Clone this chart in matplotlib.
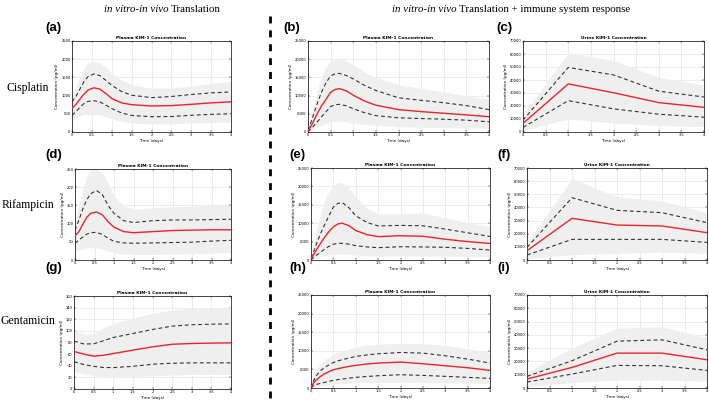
import numpy as np
import matplotlib
matplotlib.use("Agg")
import matplotlib.pyplot as plt
from matplotlib.lines import Line2D

W, H = 709, 401

# time points
t_smooth = [0, 0.1, 0.2, 0.3, 0.4, 0.55, 0.7, 0.85, 1.0, 1.25, 1.5, 2.0, 2.5, 3.0, 3.5, 4.0]
t_fast = [0, 0.05, 0.1, 0.2, 0.3, 0.4, 0.5, 0.6, 0.7, 0.85, 1.0, 1.25, 1.5, 2.0, 2.5, 3.0, 3.5, 4.0]
t_gent = [0, 0.25, 0.5, 0.75, 1.0, 1.5, 2.0, 2.5, 3.0, 3.5, 4.0]
t_urine = [0, 1, 2, 3, 4]

# (a) Cisplatin, plasma, in vitro-in vivo
mean_a = [650, 760, 900, 1040, 1150, 1215, 1180, 1060, 920, 800, 750, 715, 725, 760, 800, 830]
up_a = [830, 980, 1180, 1380, 1520, 1595, 1550, 1420, 1280, 1110, 1010, 945, 975, 1030, 1075, 1100]
lo_a = [460, 560, 680, 780, 840, 860, 830, 740, 645, 520, 455, 420, 425, 460, 485, 500]
bhi_a = [1000, 1250, 1500, 1750, 1900, 1950, 1900, 1780, 1620, 1420, 1300, 1200, 1210, 1260, 1330, 1400]
blo_a = [300, 370, 440, 490, 510, 500, 470, 420, 360, 290, 250, 220, 225, 245, 260, 270]

# (b) Cisplatin, plasma, + immune
mean_b = [300, 1300, 2400, 4900, 7200, 9000, 10900, 11700, 11900, 11300, 10100, 8500, 7350, 6150, 5600, 5150, 4700, 4200]
up_b = [500, 2200, 4000, 7700, 11000, 13600, 15400, 16000, 16100, 15500, 14600, 12800, 11400, 9400, 8700, 8050, 7250, 6150]
lo_b = [0, 700, 1300, 2700, 4200, 5600, 7000, 7500, 7600, 7200, 6400, 5300, 4500, 3900, 3700, 3500, 3250, 2800]
bhi_b = [1000, 3500, 6000, 11000, 15000, 18000, 19500, 20000, 20000, 19500, 18500, 16500, 15000, 13000, 12000, 11000, 10000, 9000]
blo_b = [0, 300, 600, 1200, 1800, 2400, 2900, 3000, 3000, 2800, 2500, 2100, 1800, 1500, 1300, 1200, 1100, 1000]

# (c) Cisplatin, urine
mean_c = [6600, 37000, 30200, 22600, 19000]
up_c = [9100, 49700, 43900, 31400, 26900]
lo_c = [3500, 24100, 17800, 13700, 11400]
bhi_c = [13000, 61000, 55000, 42000, 36000]
blo_c = [1000, 10000, 7000, 5000, 4000]

# (d) Rifampicin, plasma, in vitro-in vivo
mean_d = [66, 78, 98, 117, 128, 132, 124, 105, 90, 78, 75, 78, 81, 82, 83, 83]
up_d = [82, 110, 140, 165, 182, 191, 180, 150, 128, 108, 103, 108, 110, 110, 111, 112]
lo_d = [46, 55, 63, 71, 75, 76, 70, 60, 51, 47, 46, 47, 48, 49, 52, 54]
bhi_d = [110, 150, 195, 230, 248, 250, 240, 210, 175, 150, 140, 143, 146, 148, 150, 150]
blo_d = [25, 28, 31, 33, 34, 33, 30, 25, 20, 16, 15, 15, 16, 17, 19, 20]

# (e) Rifampicin, plasma, + immune
mean_e = [300, 1300, 2300, 4300, 6100, 7700, 9000, 9800, 10000, 9300, 8000, 6900, 6350, 6600, 6450, 5650, 5000, 4500]
up_e = [500, 2000, 3700, 6800, 9500, 12000, 14400, 15400, 15600, 14200, 12000, 10200, 9250, 9400, 9300, 8400, 7400, 6400]
lo_e = [0, 600, 1100, 2000, 2900, 3700, 4300, 4500, 4550, 4300, 3900, 3550, 3350, 3600, 3550, 3450, 3150, 2700]
bhi_e = [1000, 4000, 7000, 12000, 16000, 18500, 20000, 21000, 21000, 19500, 17000, 14000, 12500, 12500, 12800, 11500, 10200, 9000]
blo_e = [0, 200, 400, 800, 1100, 1400, 1600, 1600, 1600, 1500, 1300, 1100, 1000, 1100, 1100, 1000, 900, 800]

# (f) Rifampicin, urine
mean_f = [7100, 31700, 26600, 25900, 20800]
up_f = [9600, 47400, 37800, 36000, 28400]
lo_f = [3800, 15700, 15700, 15700, 13400]
bhi_f = [13000, 62000, 48000, 45000, 36000]
blo_f = [1000, 4000, 5000, 6000, 5000]

# (g) Gentamicin, plasma, in vitro-in vivo
mean_g = [64.5, 60, 56.5, 58, 61, 66.8, 72.5, 77, 78.3, 79, 79.4]
up_g = [82.3, 77.5, 77.7, 83, 88.6, 95.5, 102.4, 108.2, 110.5, 111.5, 112]
lo_g = [47, 42, 39, 37, 36.8, 39, 42.6, 44.3, 45, 45, 45]
bhi_g = [100, 95, 95, 105, 113, 122, 130, 136, 139, 140, 141]
blo_g = [30, 26, 23, 21, 20, 21, 23, 24, 25, 25, 25]

# (h) Gentamicin, plasma, + immune
mean_h = [0, 1200, 2000, 3000, 3800, 4400, 4900, 5200, 5450, 5800, 6070, 6450, 6700, 6960, 6520, 5980, 5450, 4730]
up_h = [0, 1800, 3000, 4500, 5500, 6200, 6880, 7300, 7600, 8050, 8480, 8900, 9200, 9550, 9380, 8660, 7770, 6700]
lo_h = [0, 600, 900, 1200, 1500, 1800, 2050, 2250, 2400, 2650, 2860, 3100, 3300, 3570, 3390, 3130, 2860, 2590]
bhi_h = [500, 3000, 4500, 6300, 7500, 8300, 9000, 9500, 9900, 10500, 11000, 11500, 11800, 12000, 11900, 11500, 10500, 9500]
blo_h = [0, 300, 500, 700, 800, 900, 1000, 1100, 1200, 1300, 1400, 1500, 1500, 1500, 1500, 1400, 1300, 1200]

# (i) Gentamicin, urine
mean_i = [6750, 15500, 26250, 26250, 21250]
up_i = [8750, 20500, 35250, 36250, 28750]
lo_i = [4500, 10500, 17000, 16750, 13250]
bhi_i = [12000, 30000, 45000, 46000, 38000]
blo_i = [1000, 4000, 6000, 6000, 5000]

x_ticks = [0, 0.5, 1, 1.5, 2, 2.5, 3, 3.5, 4]
x_ticklabels = ["0", "0.5", "1", "1.5", "2", "2.5", "3", "3.5", "4"]

fig = plt.figure(figsize=(W / 100, H / 100), dpi=100)


def add_ax(l, t, r, b):
    return fig.add_axes([l / W, 1 - b / H, (r - l) / W, (b - t) / H])


def panel(ax, t, mean, up, lo, bhi, blo, ymax, ystep, title):
    ax.fill_between(t, blo, bhi, color="#efefef", lw=0, zorder=1)
    ax.plot(t, up, color="#333333", lw=0.8, ls=(0, (3.5, 2.5)), zorder=3)
    ax.plot(t, lo, color="#333333", lw=0.8, ls=(0, (3.5, 2.5)), zorder=3)
    ax.plot(t, mean, color="#e8252b", lw=1.0, zorder=4)
    ax.set_xlim(0, 4)
    ax.set_ylim(0, ymax)
    ax.set_xticks(x_ticks)
    ax.set_xticklabels(x_ticklabels)
    ax.set_yticks(np.arange(0, ymax + 1, ystep))
    ax.grid(True, color="#dddddd", lw=0.4, zorder=0)
    ax.set_axisbelow(True)
    ax.tick_params(labelsize=2.6, length=1.2, width=0.3, direction="in", pad=1,
                   top=True, right=True)
    for s in ax.spines.values():
        s.set_linewidth(0.5)
    ax.set_title(title, fontsize=3.2, fontweight="bold", pad=1.2)
    ax.set_xlabel("Time (days)", fontsize=3, labelpad=1)
    ax.set_ylabel("Concentration (pg/ml)", fontsize=3, labelpad=1.5)


plasma = "Plasma KIM-1 Concentration"
urine = "Urine KIM-1 Concentration"

ax = add_ax(72, 41, 231, 132)
panel(ax, t_smooth, mean_a, up_a, lo_a, bhi_a, blo_a, 2500, 500, plasma)
ax = add_ax(308, 41, 489, 132)
panel(ax, t_fast, mean_b, up_b, lo_b, bhi_b, blo_b, 25000, 5000, plasma)
ax = add_ax(523, 41, 704, 132)
panel(ax, t_urine, mean_c, up_c, lo_c, bhi_c, blo_c, 70000, 10000, urine)

ax = add_ax(75, 169, 231, 260)
panel(ax, t_smooth, mean_d, up_d, lo_d, bhi_d, blo_d, 250, 50, plasma)
ax = add_ax(311, 168, 490, 260)
panel(ax, t_fast, mean_e, up_e, lo_e, bhi_e, blo_e, 25000, 5000, plasma)
ax = add_ax(527, 168, 707, 260)
panel(ax, t_urine, mean_f, up_f, lo_f, bhi_f, blo_f, 70000, 10000, urine)

ax = add_ax(74, 296, 231, 389)
panel(ax, t_gent, mean_g, up_g, lo_g, bhi_g, blo_g, 160, 20, plasma)
ax = add_ax(311, 295, 490, 388)
panel(ax, t_fast, mean_h, up_h, lo_h, bhi_h, blo_h, 25000, 5000, plasma)
ax = add_ax(527, 295, 707, 388)
panel(ax, t_urine, mean_i, up_i, lo_i, bhi_i, blo_i, 70000, 10000, urine)

# panel letters
letters = [("(a)", 45, 28), ("(b)", 283, 28), ("(c)", 496, 28),
           ("(d)", 45, 155), ("(e)", 289, 155), ("(f)", 497, 155),
           ("(g)", 45, 268), ("(h)", 289, 268), ("(i)", 497, 268)]
for s, x, y in letters:
    fig.text(x / W, 1 - y / H, s, fontsize=9.5, fontweight="bold",
             family="Liberation Sans", ha="left", va="center")

# row labels
for s, y in [("Cisplatin", 88), ("Rifampicin", 205), ("Gentamicin", 321)]:
    fig.text(28 / W, 1 - y / H, s, fontsize=8.5, family="Liberation Serif",
             ha="center", va="center")

# column headers
fs_head = 7.8
fig.text(169 / W, 1 - 9 / H, "in vitro-in vivo", fontsize=fs_head, style="italic",
         family="Liberation Serif", ha="right", va="center")
fig.text(171 / W, 1 - 9 / H, "Translation", fontsize=fs_head,
         family="Liberation Serif", ha="left", va="center")
fig.text(457 / W, 1 - 9 / H, "in vitro-in vivo", fontsize=fs_head, style="italic",
         family="Liberation Serif", ha="right", va="center")
fig.text(459 / W, 1 - 9 / H, "Translation + immune system response", fontsize=fs_head,
         family="Liberation Serif", ha="left", va="center")

# dashed divider
fig.add_artist(Line2D([270 / W, 270 / W], [1 - 16 / H, 0], color="black",
                      lw=2, ls=(0, (2.5, 2.5)), transform=fig.transFigure))

fig.savefig("out.png", dpi=100)
